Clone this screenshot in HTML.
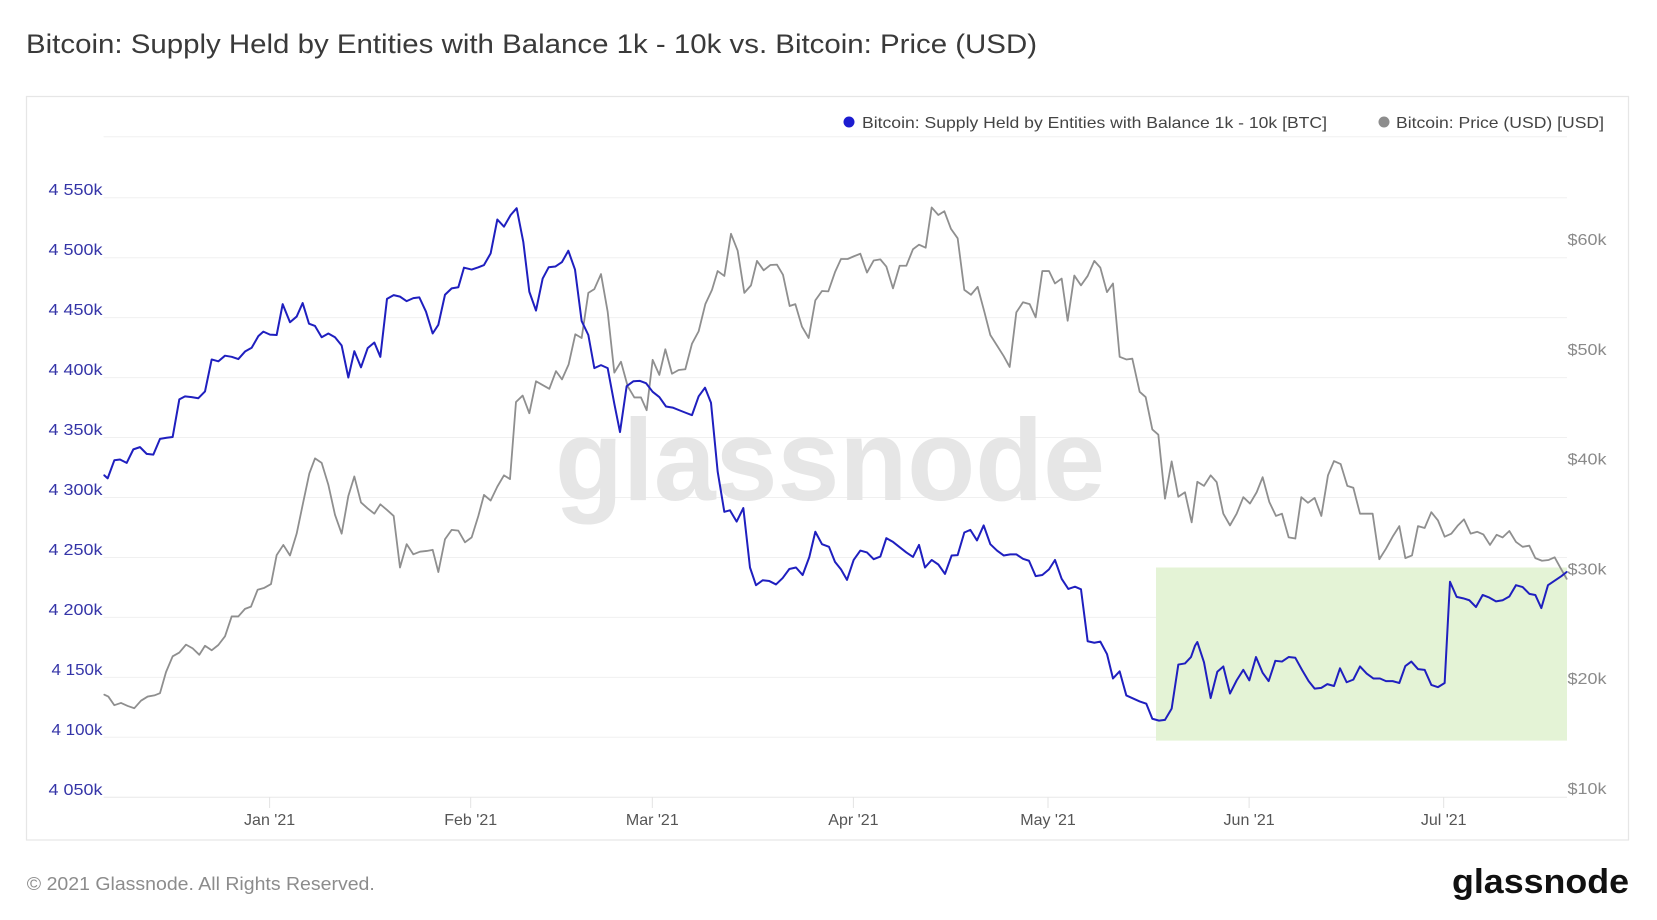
<!DOCTYPE html>
<html>
<head>
<meta charset="utf-8">
<style>
  html, body { margin: 0; padding: 0; background: #ffffff; }
  svg { display: block; }
  text { font-family: "Liberation Sans", "DejaVu Sans", sans-serif; }
</style>
</head>
<body>
<svg width="1657" height="920" viewBox="0 0 1657 920" xmlns="http://www.w3.org/2000/svg">
  <rect x="0" y="0" width="1657" height="920" fill="#ffffff"/>

  <!-- Title -->
  <text x="26" y="53" font-size="27" fill="#3a3a3a" textLength="1011" lengthAdjust="spacingAndGlyphs">Bitcoin: Supply Held by Entities with Balance 1k - 10k vs. Bitcoin: Price (USD)</text>

  <!-- Chart frame -->
  <rect x="26.5" y="96.5" width="1602" height="743.5" fill="#ffffff" stroke="#e6e6e6" stroke-width="1.2"/>

  <!-- Legend -->
  <circle cx="849" cy="122" r="5.5" fill="#1c1cd0"/>
  <text x="862" y="128" font-size="16" fill="#444444" textLength="465" lengthAdjust="spacingAndGlyphs">Bitcoin: Supply Held by Entities with Balance 1k - 10k [BTC]</text>
  <circle cx="1384" cy="122" r="5.5" fill="#8d8d8d"/>
  <text x="1396" y="128" font-size="16" fill="#444444" textLength="208" lengthAdjust="spacingAndGlyphs">Bitcoin: Price (USD) [USD]</text>

  <!-- Gridlines -->
  <g stroke="#f0f0f0" stroke-width="1">
    <line x1="103.6" y1="136.7" x2="1567" y2="136.7"/>
    <line x1="103.6" y1="197.7" x2="1567" y2="197.7"/>
    <line x1="103.6" y1="257.7" x2="1567" y2="257.7"/>
    <line x1="103.6" y1="317.6" x2="1567" y2="317.6"/>
    <line x1="103.6" y1="377.6" x2="1567" y2="377.6"/>
    <line x1="103.6" y1="437.5" x2="1567" y2="437.5"/>
    <line x1="103.6" y1="497.5" x2="1567" y2="497.5"/>
    <line x1="103.6" y1="557.5" x2="1567" y2="557.5"/>
    <line x1="103.6" y1="617.4" x2="1567" y2="617.4"/>
    <line x1="103.6" y1="677.4" x2="1567" y2="677.4"/>
    <line x1="103.6" y1="737.3" x2="1567" y2="737.3"/>
  </g>
  <line x1="103.6" y1="797.3" x2="1567" y2="797.3" stroke="#e8e8e8" stroke-width="1"/>

  <!-- Month ticks -->
  <g stroke="#e3e3e3" stroke-width="1">
    <line x1="269.6" y1="797.3" x2="269.6" y2="808"/>
    <line x1="470.7" y1="797.3" x2="470.7" y2="808"/>
    <line x1="652.3" y1="797.3" x2="652.3" y2="808"/>
    <line x1="853.4" y1="797.3" x2="853.4" y2="808"/>
    <line x1="1048" y1="797.3" x2="1048" y2="808"/>
    <line x1="1249.1" y1="797.3" x2="1249.1" y2="808"/>
    <line x1="1443.7" y1="797.3" x2="1443.7" y2="808"/>
  </g>

  <!-- Watermark -->
  <text x="555" y="500" font-size="116" font-weight="bold" fill="#e6e6e6" textLength="550" lengthAdjust="spacingAndGlyphs">glassnode</text>

  <!-- Highlight box -->
  <rect x="1156" y="567.5" width="411" height="173.1" fill="#e4f3d6"/>

  <!-- Left axis labels -->
  <g font-size="16" fill="#3535a8" text-anchor="end">
    <text x="102.5" y="195" textLength="54" lengthAdjust="spacingAndGlyphs">4 550k</text>
    <text x="102.5" y="255" textLength="54" lengthAdjust="spacingAndGlyphs">4 500k</text>
    <text x="102.5" y="315" textLength="54" lengthAdjust="spacingAndGlyphs">4 450k</text>
    <text x="102.5" y="375" textLength="54" lengthAdjust="spacingAndGlyphs">4 400k</text>
    <text x="102.5" y="435" textLength="54" lengthAdjust="spacingAndGlyphs">4 350k</text>
    <text x="102.5" y="495" textLength="54" lengthAdjust="spacingAndGlyphs">4 300k</text>
    <text x="102.5" y="555" textLength="54" lengthAdjust="spacingAndGlyphs">4 250k</text>
    <text x="102.5" y="615" textLength="54" lengthAdjust="spacingAndGlyphs">4 200k</text>
    <text x="102.5" y="675" textLength="51" lengthAdjust="spacingAndGlyphs">4 150k</text>
    <text x="102.5" y="735" textLength="51" lengthAdjust="spacingAndGlyphs">4 100k</text>
    <text x="102.5" y="795" textLength="54" lengthAdjust="spacingAndGlyphs">4 050k</text>
  </g>

  <!-- Right axis labels -->
  <g font-size="16" fill="#8a8a8a">
    <text x="1567.5" y="245" textLength="39" lengthAdjust="spacingAndGlyphs">$60k</text>
    <text x="1567.5" y="354.8" textLength="39" lengthAdjust="spacingAndGlyphs">$50k</text>
    <text x="1567.5" y="464.6" textLength="39" lengthAdjust="spacingAndGlyphs">$40k</text>
    <text x="1567.5" y="574.4" textLength="39" lengthAdjust="spacingAndGlyphs">$30k</text>
    <text x="1567.5" y="684.2" textLength="39" lengthAdjust="spacingAndGlyphs">$20k</text>
    <text x="1567.5" y="794" textLength="39" lengthAdjust="spacingAndGlyphs">$10k</text>
  </g>

  <!-- X axis labels -->
  <g font-size="16" fill="#555555" text-anchor="middle">
    <text x="269.6" y="825">Jan '21</text>
    <text x="470.7" y="825">Feb '21</text>
    <text x="652.3" y="825">Mar '21</text>
    <text x="853.4" y="825">Apr '21</text>
    <text x="1048" y="825">May '21</text>
    <text x="1249.1" y="825">Jun '21</text>
    <text x="1443.7" y="825">Jul '21</text>
  </g>

  <!-- Series -->
  <g transform="translate(95,180) scale(0.33333,0.37622)" fill="none" stroke-linejoin="round" stroke-linecap="round">
    <!-- Price (gray) -->
    <polyline vector-effect="non-scaling-stroke" stroke="#8f8f8f" stroke-width="1.8" points="
28,1368 40,1373 58,1396 78,1390 98,1398 118,1404 138,1384 158,1373 178,1370 195,1364 213,1308 233,1266 253,1256 273,1235 293,1245 313,1262 330,1238 350,1250 370,1236 390,1213 410,1160 430,1160 450,1140 468,1134 488,1089 508,1084 528,1074 545,997 565,970 585,998 605,940 625,855 643,780 660,740 680,752 700,810 720,890 740,940 760,840 778,788 798,857 818,873 838,887 856,862 876,877 896,893 915,1030 935,968 955,995 975,988 995,986 1013,983 1030,1042 1050,955 1070,930 1090,932
1110,963 1130,950 1150,893 1167,837 1187,852 1207,815 1227,785 1245,795 1263,590 1283,573 1303,620 1323,535 1343,545 1363,555 1383,508 1401,530 1421,490 1441,410 1460,420 1480,300 1498,290 1518,250 1538,350 1558,512 1578,483 1598,548 1618,578 1638,578 1655,612 1673,478 1693,518 1711,450 1731,515 1751,505 1771,503 1791,435 1811,402 1831,330 1851,292 1868,242 1888,255 1908,143 1928,188 1948,300 1968,280 1986,215 2006,240 2026,226 2046,225 2064,252 2084,335 2101,330 2121,390 2141,420 2161,320 2181,295
2200,296 2220,245 2238,210 2258,210 2276,203 2296,196 2316,246 2336,214 2356,211 2374,230 2394,288 2414,228 2434,228 2454,184 2472,172 2492,180 2510,73 2530,93 2548,83 2568,130 2588,155 2608,292 2628,305 2648,284 2668,350 2686,412 2706,440 2726,468 2744,497 2764,352 2784,325 2804,330 2822,365 2842,242 2862,242 2880,275 2900,262 2918,374 2938,254 2958,280 2978,255 2998,215 3016,233 3036,298 3054,275 3074,470 3094,477 3112,475 3134,563 3152,577 3172,663 3190,677 3210,847 3230,748 3250,842 3270,830 3290,910
3307,802 3327,813 3347,785 3365,803 3385,887 3405,918 3425,887 3445,843 3465,860 3485,830 3503,790 3523,856 3543,893 3561,887 3581,950 3601,953 3619,843 3639,858 3659,845 3679,893 3699,785 3717,747 3737,755 3757,813 3775,818 3795,887 3815,887 3833,887 3853,1008 3873,980 3893,948 3913,920 3931,1005 3951,998 3969,920 3989,925 4009,883 4029,905 4049,948 4069,940 4089,918 4107,902 4127,940 4147,935 4165,942 4185,970 4205,943 4223,950 4243,933 4263,962 4283,975 4303,972 4321,1005 4341,1012 4361,1010 4379,1003 4399,1035 4415,1060"/>
    <!-- Supply (blue) -->
    <polyline vector-effect="non-scaling-stroke" stroke="#1f1fbf" stroke-width="2" points="
28,785 38,793 58,745 75,743 95,752 115,716 135,710 155,728 175,730 195,688 215,685 233,683 253,583 270,575 290,577 310,580 330,562 350,477 370,482 390,467 410,470 430,476 450,456 470,446 490,415 505,403 525,411 545,412 563,330 585,378 605,363 623,327 642,382 660,388 680,418 700,408 720,418 740,440 760,525 778,455 798,498 818,447 838,432 856,470 876,316 896,306 915,310 935,322 955,314 973,312 993,350 1013,408 1030,385 1050,305 1070,288 1090,285
1095,270 1107,233 1130,238 1150,232 1167,226 1187,195 1207,105 1227,124 1247,93 1265,75 1285,165 1303,297 1323,347 1343,262 1361,232 1381,230 1401,218 1420,188 1440,238 1460,375 1480,412 1498,500 1518,492 1538,500 1558,595 1575,670 1595,548 1615,535 1635,534 1653,540 1673,563 1693,577 1713,602 1733,605 1753,612 1773,619 1791,625 1811,575 1830,552 1848,592 1868,775 1888,882 1905,878 1925,908 1945,872 1965,1030 1983,1077 2003,1064 2023,1066 2043,1075 2063,1058 2083,1034 2103,1030 2123,1050 2143,1002 2161,935 2181,968
2202,975 2220,1015 2238,1035 2256,1063 2276,1010 2296,985 2316,990 2336,1008 2356,1001 2374,952 2394,962 2414,976 2434,990 2454,1002 2472,970 2490,1030 2510,1010 2530,1022 2550,1047 2570,998 2588,997 2608,937 2626,930 2646,958 2666,918 2686,968 2706,985 2726,998 2746,995 2764,995 2784,1007 2802,1012 2822,1053 2842,1050 2862,1035 2880,1010 2900,1060 2920,1087 2940,1081 2958,1088 2978,1226 2998,1230 3016,1227 3036,1260 3054,1325 3074,1306 3094,1370 3114,1378 3134,1386 3154,1392 3172,1432 3192,1437 3210,1435 3230,1405 3250,1288 3270,1285 3288,1268 3300,1238
3307,1228 3327,1282 3347,1377 3367,1307 3385,1293 3405,1365 3425,1330 3445,1302 3463,1330 3483,1268 3503,1310 3521,1332 3541,1278 3561,1280 3581,1268 3601,1270 3621,1302 3641,1332 3659,1352 3679,1350 3697,1340 3717,1345 3735,1298 3755,1335 3775,1328 3795,1293 3815,1312 3835,1325 3855,1325 3873,1332 3893,1332 3913,1337 3931,1292 3949,1280 3969,1300 3989,1302 4009,1342 4029,1348 4049,1337 4065,1068 4085,1108 4105,1112 4123,1117 4143,1135 4163,1103 4183,1110 4203,1120 4223,1117 4243,1107 4263,1077 4283,1082 4303,1100 4321,1103 4339,1138 4359,1077 4379,1065 4399,1053 4415,1042"/>
  </g>

  <!-- Footer -->
  <text x="26.8" y="890" font-size="18" fill="#8c8c8c" textLength="348" lengthAdjust="spacingAndGlyphs">© 2021 Glassnode. All Rights Reserved.</text>
  <text x="1452" y="893" font-size="34" font-weight="bold" fill="#111111" textLength="177" lengthAdjust="spacingAndGlyphs">glassnode</text>
</svg>
</body>
</html>
